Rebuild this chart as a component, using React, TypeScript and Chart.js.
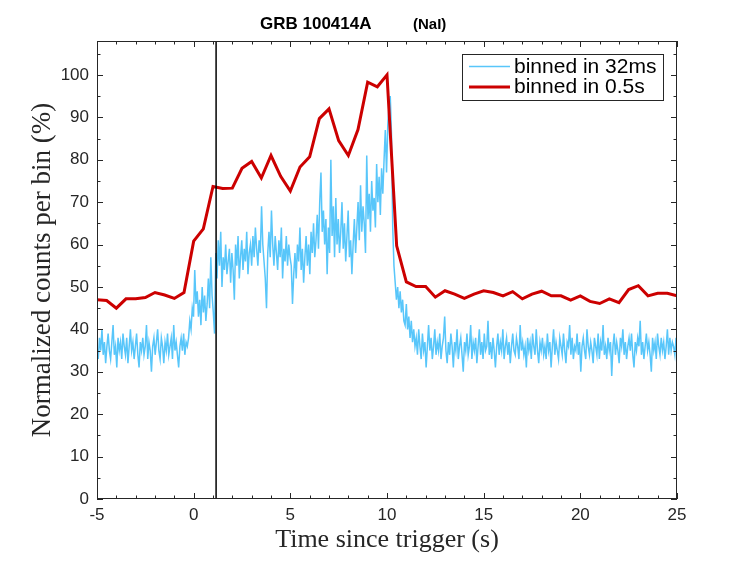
import { useEffect, useRef } from "react"
import { Chart, registerables, type ChartConfiguration, type Plugin } from "chart.js"

Chart.register(...registerables)

const TITLE = "GRB 100414A"
const TITLE_TAG = "(NaI)"
const X_LABEL = "Time since trigger (s)"
const Y_LABEL = "Normalized counts per bin (%)"
const TRIGGER_LINE = 1.16

// 0.5 s bins
const coarseStart = -5
const coarseStep = 0.5
const coarseCounts = [
  47.0, 46.8, 45.0, 47.2, 47.2, 47.5, 48.7, 48.1, 47.3, 48.7,
  60.8, 63.7, 73.7, 73.2, 73.3, 78.0, 79.6, 75.7, 81.0, 76.1,
  72.6, 78.3, 80.7, 89.7, 92.0, 84.5, 81.0, 87.1, 98.3, 97.2,
  100.0, 59.7, 51.2, 50.1, 50.1, 47.6, 49.1, 48.3, 47.3, 48.3,
  49.1, 48.7, 47.9, 48.9, 47.2, 48.3, 49.0, 47.9, 47.9, 46.9,
  47.9, 46.6, 46.1, 47.2, 46.3, 49.4, 50.3, 47.9, 48.5, 48.5,
  47.9,
]

// fine bins (every other 32 ms bin shown)
const fineStart = -5
const fineStep = 0.064
const finePre = [
  36, 33, 38, 35, 40, 34, 37, 32, 36, 39, 35, 33, 37, 41, 34, 36, 31, 38, 35, 37,
  33, 39, 36, 34, 38, 32, 36, 40, 35, 37, 33, 36, 39, 34, 31, 37, 35, 38, 34, 36,
  41, 33, 37, 35, 30, 36, 38, 34, 37, 40, 35, 33, 38, 36, 32, 37, 35, 39, 34, 36,
  38, 33, 41, 35, 37, 34, 31, 36, 38, 35, 39, 34, 37, 36,
  38, 42, 40, 45, 43,
  54, 46, 49, 43, 47, 41, 50, 44, 48, 42, 46, 52, 45, 57, 48, 44, 39,
]
const fineBurst = [
  58, 52, 61, 55, 63, 50, 57, 54, 60, 53, 56, 59, 51, 58, 54, 47, 60, 55, 62, 52,
  57, 61, 54, 59, 56, 63, 53, 58, 60, 55, 62, 57, 64, 59, 55, 61, 58, 69, 60, 56,
  52, 45, 58, 63, 57, 68, 60, 55, 62, 58, 54, 61, 57, 64, 52, 59, 56, 62, 55, 60,
  57,
  55, 46, 53, 58, 52, 60, 56, 64, 54, 59, 51, 57, 62, 55, 60, 53, 63, 58, 65, 57,
  61, 67, 59, 70, 77, 63, 68, 60, 66, 53, 64, 58, 80, 62, 69, 57, 71, 60, 66, 58,
  63, 70, 59, 65, 56, 62, 68, 57, 61, 53, 60, 66, 58, 64, 70, 61, 74, 63, 69, 65,
  58, 81, 66, 72, 63, 75, 68, 71, 64, 79, 70, 76, 67, 78, 72, 80, 87, 77,
  88, 93, 95, 86, 64, 55, 51, 47, 50, 45, 49, 44, 47, 42, 41, 46, 40, 43, 38, 42,
  37, 40, 36,
]
const finePost = [
  38, 34, 40, 36, 33, 39, 35, 37, 31, 36, 41, 35, 38, 33, 36, 40, 34, 37, 35, 39,
  33, 36, 38, 43, 35, 32, 37, 34, 39, 36, 31, 37, 35, 40, 33, 36, 38, 34, 30, 37,
  35, 39, 34, 36, 41, 33, 37, 35, 38, 32, 36, 40, 34, 37, 33, 39, 35, 36, 42, 34,
  37, 33, 38, 35, 31, 36, 39, 34, 37, 35, 40, 33, 36, 38, 34, 37, 32, 36, 39, 35,
  34, 38, 36, 33, 41, 35, 37, 34, 36, 31, 38, 35, 37, 33, 39, 36, 34, 40, 35, 32,
  37, 35, 38, 34, 36, 33, 39, 35, 37, 31, 36, 40, 34, 37, 35, 33, 38, 36, 34, 39,
  35, 32, 37, 36, 41, 34, 38, 33, 36, 35, 39, 34, 37, 30, 36, 38, 35, 33, 40, 36,
  34, 37, 35, 32, 38, 36, 34, 39, 33, 37, 35, 41, 34, 36, 33, 38, 35, 37, 29, 36,
  39, 34, 37, 35, 32, 38, 36, 40, 34, 37, 33, 36, 38, 35, 39, 34, 31, 37, 35, 38,
  36, 42, 34, 37, 33, 36, 39, 35, 37, 34, 30, 38, 35, 37, 33, 39, 36, 34, 38, 35,
  37, 33, 36, 40, 34, 38, 35, 37, 36, 34, 38,
]

const X_MIN = -5
const X_MAX = 25
const Y_MIN = 0
const Y_MAX = 108

const AXIS_COLOR = "#262626"
const SANS = "'Liberation Sans', Arial, Helvetica, sans-serif"
const SERIF = "'Liberation Serif', 'Times New Roman', Times, serif"

// box, inward ticks (major + minor)
const framePlugin: Plugin = {
  id: "frame",
  afterDatasetsDraw(chart) {
    const { ctx, chartArea: a } = chart
    const xs = chart.scales.x
    const ys = chart.scales.y
    ctx.save()
    ctx.strokeStyle = AXIS_COLOR
    ctx.lineWidth = 1
    ctx.beginPath()
    for (let t = X_MIN; t <= X_MAX; t += 1) {
      const px = Math.round(xs.getPixelForValue(t)) + 0.5
      const len = t % 5 === 0 ? 6 : 3.5
      ctx.moveTo(px, a.bottom)
      ctx.lineTo(px, a.bottom - len)
      ctx.moveTo(px, a.top)
      ctx.lineTo(px, a.top + len)
    }
    for (let v = Y_MIN; v <= Y_MAX; v += 5) {
      const py = Math.round(ys.getPixelForValue(v)) + 0.5
      const len = v % 10 === 0 ? 6 : 3.5
      ctx.moveTo(a.left, py)
      ctx.lineTo(a.left + len, py)
      ctx.moveTo(a.right, py)
      ctx.lineTo(a.right - len, py)
    }
    ctx.stroke()
    ctx.strokeRect(Math.round(a.left) + 0.5, Math.round(a.top) + 0.5, Math.round(a.width) - 1, Math.round(a.height) - 1)
    ctx.restore()
  },
}

const titlePlugin: Plugin = {
  id: "mtitle",
  afterDraw(chart) {
    const { ctx, chartArea: a } = chart
    ctx.save()
    ctx.fillStyle = "#000"
    ctx.textBaseline = "alphabetic"
    ctx.textAlign = "left"
    ctx.font = `bold 17px ${SANS}`
    const x0 = a.left + 163
    ctx.fillText(TITLE, x0, 29)
    ctx.font = `bold 15px ${SANS}`
    ctx.fillText(TITLE_TAG, a.left + 316, 29)
    ctx.restore()
  },
}

const legendPlugin: Plugin = {
  id: "mlegend",
  afterDraw(chart) {
    const { ctx, chartArea: a } = chart
    const items = chart.data.datasets.filter((d: any) => d.label)
    const bx = a.right - 215
    const by = a.top + 13
    ctx.save()
    ctx.fillStyle = "#fff"
    ctx.fillRect(bx, by, 201, 46)
    ctx.strokeStyle = AXIS_COLOR
    ctx.lineWidth = 1
    ctx.strokeRect(bx + 0.5, by + 0.5, 201, 46)
    ctx.font = `21px ${SANS}`
    ctx.textBaseline = "alphabetic"
    items.forEach((d: any, i: number) => {
      const ly = by + 12.5 + i * 20.6
      ctx.strokeStyle = d.borderColor
      ctx.lineWidth = d.borderWidth
      ctx.beginPath()
      ctx.moveTo(bx + 7, ly)
      ctx.lineTo(bx + 48, ly)
      ctx.stroke()
      ctx.fillStyle = "#000"
      ctx.fillText(d.label, bx + 52, ly + 6)
    })
    ctx.restore()
  },
}

export default function App() {
  const canvasRef = useRef<HTMLCanvasElement>(null)

  useEffect(() => {
    if (!canvasRef.current) return
    const fine = [...finePre, ...fineBurst, ...finePost].map((v, i) => ({ x: fineStart + i * fineStep, y: v }))
    const coarse = coarseCounts.map((v, i) => ({ x: coarseStart + i * coarseStep, y: v }))

    const config: ChartConfiguration<"line"> = {
      type: "line",
      data: {
        datasets: [
          {
            data: [
              { x: TRIGGER_LINE, y: Y_MIN },
              { x: TRIGGER_LINE, y: Y_MAX },
            ],
            borderColor: "#000",
            borderWidth: 1.5,
            pointRadius: 0,
            order: 0,
          },
          {
            label: "binned in 32ms",
            data: fine,
            borderColor: "rgb(88,198,250)",
            borderWidth: 1.5,
            pointRadius: 0,
            order: 2,
          },
          {
            label: "binned in 0.5s",
            data: coarse,
            borderColor: "rgb(204,0,0)",
            borderWidth: 3,
            pointRadius: 0,
            order: 1,
          },
        ],
      },
      options: {
        animation: false,
        responsive: true,
        maintainAspectRatio: false,
        parsing: false,
        layout: { padding: { left: 0, right: 70, top: 41, bottom: 0 } },
        plugins: {
          legend: { display: false },
          tooltip: { enabled: false },
          title: { display: false },
        },
        scales: {
          x: {
            type: "linear",
            min: X_MIN,
            max: X_MAX,
            grid: { display: false, drawTicks: false, tickLength: 0 },
            border: { display: false },
            ticks: {
              stepSize: 5,
              padding: 6,
              color: AXIS_COLOR,
              font: { family: SANS, size: 17 },
              maxRotation: 0,
            },
            title: {
              display: true,
              text: X_LABEL,
              color: AXIS_COLOR,
              font: { family: SERIF, size: 26 },
              padding: { top: 0, bottom: 5 },
            },
            afterFit: (scale) => {
              scale.height = 62
            },
          },
          y: {
            type: "linear",
            min: Y_MIN,
            max: Y_MAX,
            grid: { display: false, drawTicks: false, tickLength: 0 },
            border: { display: false },
            ticks: {
              stepSize: 10,
              includeBounds: false,
              padding: 8,
              color: AXIS_COLOR,
              font: { family: SANS, size: 17 },
            },
            title: {
              display: true,
              text: Y_LABEL,
              color: AXIS_COLOR,
              font: { family: SERIF, size: 27 },
              padding: { top: 27, bottom: 0 },
            },
            afterFit: (scale) => {
              scale.width = 97
            },
          },
        },
      },
      plugins: [framePlugin, titlePlugin, legendPlugin],
    }

    const chart = new Chart(canvasRef.current, config)
    return () => chart.destroy()
  }, [])

  return (
    <div style={{ position: "fixed", left: 0, top: 0, width: 747, height: 561, background: "#fff" }}>
      <canvas ref={canvasRef} />
    </div>
  )
}
